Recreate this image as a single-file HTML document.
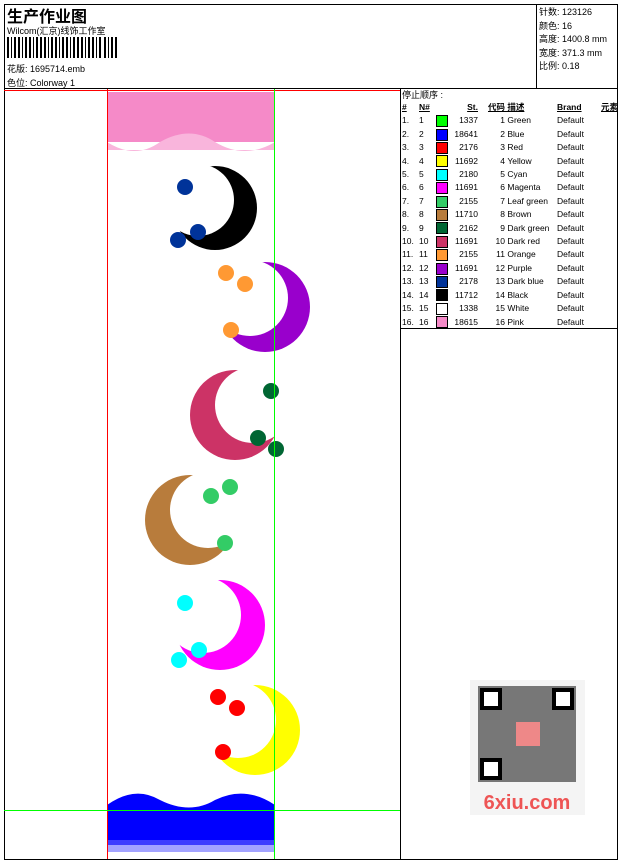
<!DOCTYPE html>
<html><head><meta charset="utf-8"><style>
body{margin:0;background:#fff;width:620px;height:861px;overflow:hidden;font-family:"Liberation Sans","Noto Sans CJK SC",sans-serif;font-size:9px;color:#000;position:relative}
.a{position:absolute;white-space:nowrap}
table{border-collapse:collapse;font-size:8.5px;table-layout:fixed}
td{padding:0;height:13.4px;line-height:13.4px;overflow:hidden}
.sw{display:inline-block;width:10px;height:10px;border:1px solid #000;vertical-align:middle}
</style></head><body>
<svg class="a" style="left:0;top:0" width="620" height="861">
<g fill="none" stroke="#000" stroke-width="1">
<rect x="4.5" y="4.5" width="613" height="855"/>
<line x1="536.5" y1="4" x2="536.5" y2="88"/>
<line x1="4" y1="88.5" x2="618" y2="88.5"/>
<line x1="400.5" y1="88" x2="400.5" y2="859"/>
<line x1="400" y1="328.5" x2="618" y2="328.5"/>
</g>
<g fill="#000">
<rect x="7" y="37" width="2" height="21"/><rect x="11" y="37" width="1" height="21"/><rect x="14" y="37" width="2" height="21"/><rect x="18" y="37" width="2" height="21"/><rect x="22" y="37" width="1" height="21"/><rect x="25" y="37" width="2" height="21"/><rect x="29" y="37" width="2" height="21"/><rect x="33" y="37" width="1" height="21"/><rect x="36" y="37" width="2" height="21"/><rect x="40" y="37" width="2" height="21"/><rect x="44" y="37" width="2" height="21"/><rect x="48" y="37" width="1" height="21"/><rect x="51" y="37" width="2" height="21"/><rect x="55" y="37" width="2" height="21"/><rect x="59" y="37" width="1" height="21"/><rect x="62" y="37" width="2" height="21"/><rect x="66" y="37" width="2" height="21"/><rect x="70" y="37" width="1" height="21"/><rect x="73" y="37" width="2" height="21"/><rect x="77" y="37" width="2" height="21"/><rect x="81" y="37" width="2" height="21"/><rect x="85" y="37" width="1" height="21"/><rect x="88" y="37" width="2" height="21"/><rect x="92" y="37" width="2" height="21"/><rect x="96" y="37" width="1" height="21"/><rect x="99" y="37" width="2" height="21"/><rect x="104" y="37" width="2" height="21"/><rect x="108" y="37" width="1" height="21"/><rect x="111" y="37" width="2" height="21"/><rect x="115" y="37" width="2" height="21"/>
</g>
<rect x="107" y="92" width="168" height="50" fill="#f58ac8"/>
<path d="M107 142 Q135 160 160 142 Q190 125 215 142 Q245 160 275 142 L275 150 L107 150Z" fill="#f9b5dc"/>
<path d="M107 805 Q135 785 160 800 Q190 815 215 800 Q245 785 275 805 L275 845 L107 845Z" fill="#0000ff"/>
<rect x="107" y="840" width="168" height="12" fill="#6666ff" opacity=".6"/>
<g>
<circle cx="215" cy="208" r="42" fill="#000"/><circle cx="198" cy="200" r="36" fill="#fff"/>
<circle cx="265" cy="307" r="45" fill="#9900cc"/><circle cx="250" cy="298" r="38" fill="#fff"/>
<circle cx="235" cy="415" r="45" fill="#cc3366"/><circle cx="253" cy="405" r="38" fill="#fff"/>
<circle cx="190" cy="520" r="45" fill="#b87c3c"/><circle cx="208" cy="510" r="38" fill="#fff"/>
<circle cx="220" cy="625" r="45" fill="#ff00ff"/><circle cx="203" cy="615" r="38" fill="#fff"/>
<circle cx="255" cy="730" r="45" fill="#ffff00"/><circle cx="238" cy="720" r="38" fill="#fff"/>
</g>
<g>
<circle cx="185" cy="187" r="8" fill="#003399"/><circle cx="178" cy="240" r="8" fill="#003399"/><circle cx="198" cy="232" r="8" fill="#003399"/>
<circle cx="226" cy="273" r="8" fill="#ff9933"/><circle cx="245" cy="284" r="8" fill="#ff9933"/><circle cx="231" cy="330" r="8" fill="#ff9933"/>
<circle cx="271" cy="391" r="8" fill="#006633"/><circle cx="258" cy="438" r="8" fill="#006633"/><circle cx="276" cy="449" r="8" fill="#006633"/>
<circle cx="211" cy="496" r="8" fill="#33cc66"/><circle cx="230" cy="487" r="8" fill="#33cc66"/><circle cx="225" cy="543" r="8" fill="#33cc66"/>
<circle cx="185" cy="603" r="8" fill="#00ffff"/><circle cx="199" cy="650" r="8" fill="#00ffff"/><circle cx="179" cy="660" r="8" fill="#00ffff"/>
<circle cx="218" cy="697" r="8" fill="#ff0000"/><circle cx="237" cy="708" r="8" fill="#ff0000"/><circle cx="223" cy="752" r="8" fill="#ff0000"/>
</g>
<line x1="107.5" y1="89" x2="107.5" y2="859" stroke="#ff0000"/>
<line x1="4" y1="90.5" x2="400" y2="90.5" stroke="#ff0000"/>
<line x1="274.5" y1="89" x2="274.5" y2="859" stroke="#00ff00"/>
<line x1="4" y1="810.5" x2="400" y2="810.5" stroke="#00ff00"/>
<rect x="470" y="680" width="115" height="135" fill="#f4f4f4"/>
<rect x="478" y="686" width="98" height="96" fill="#777"/>
<rect x="482" y="690" width="18" height="18" fill="#fff" stroke="#000" stroke-width="4"/>
<rect x="554" y="690" width="18" height="18" fill="#fff" stroke="#000" stroke-width="4"/>
<rect x="482" y="760" width="18" height="18" fill="#fff" stroke="#000" stroke-width="4"/>
<rect x="516" y="722" width="24" height="24" fill="#e88"/>
<text x="527" y="809" font-family="Liberation Sans" font-weight="bold" font-size="20" fill="#e55" text-anchor="middle">6xiu.com</text>
</svg>
<div class="a" style="left:7px;top:3px;font-size:16px;font-weight:bold">生产作业图</div>
<div class="a" style="left:7px;top:24px">Wilcom(汇京)线饰工作室</div>
<div class="a" style="left:7px;top:62px">花版: 1695714.emb</div>
<div class="a" style="left:7px;top:76px">色位: Colorway 1</div>
<div class="a" style="left:539px;top:6px;line-height:13.5px">针数: 123126<br>颜色: 16<br>高度: 1400.8 mm<br>宽度: 371.3 mm<br>比例: 0.18</div>
<div class="a" style="left:402px;top:88px">停止顺序 :</div>
<table class="a" style="left:402px;top:101px;width:216px">
<colgroup><col style="width:17px"><col style="width:17px"><col style="width:15px"><col style="width:27px"><col style="width:27px"><col style="width:52px"><col style="width:36px"><col style="width:25px"></colgroup>
<tr style="font-weight:bold;text-decoration:underline"><td>#</td><td>N#</td><td></td><td style="text-align:right">St.</td><td style="text-align:right">代码</td><td>&nbsp;描述</td><td>Brand</td><td style="text-align:right">元素</td></tr>
<tr><td>1.</td><td>1</td><td><span class="sw" style="background:#00ff00"></span></td><td align="right">1337</td><td align="right">1</td><td>&nbsp;Green</td><td>Default</td><td></td></tr>
<tr><td>2.</td><td>2</td><td><span class="sw" style="background:#0000ff"></span></td><td align="right">18641</td><td align="right">2</td><td>&nbsp;Blue</td><td>Default</td><td></td></tr>
<tr><td>3.</td><td>3</td><td><span class="sw" style="background:#ff0000"></span></td><td align="right">2176</td><td align="right">3</td><td>&nbsp;Red</td><td>Default</td><td></td></tr>
<tr><td>4.</td><td>4</td><td><span class="sw" style="background:#ffff00"></span></td><td align="right">11692</td><td align="right">4</td><td>&nbsp;Yellow</td><td>Default</td><td></td></tr>
<tr><td>5.</td><td>5</td><td><span class="sw" style="background:#00ffff"></span></td><td align="right">2180</td><td align="right">5</td><td>&nbsp;Cyan</td><td>Default</td><td></td></tr>
<tr><td>6.</td><td>6</td><td><span class="sw" style="background:#ff00ff"></span></td><td align="right">11691</td><td align="right">6</td><td>&nbsp;Magenta</td><td>Default</td><td></td></tr>
<tr><td>7.</td><td>7</td><td><span class="sw" style="background:#33cc66"></span></td><td align="right">2155</td><td align="right">7</td><td>&nbsp;Leaf green</td><td>Default</td><td></td></tr>
<tr><td>8.</td><td>8</td><td><span class="sw" style="background:#b87c3c"></span></td><td align="right">11710</td><td align="right">8</td><td>&nbsp;Brown</td><td>Default</td><td></td></tr>
<tr><td>9.</td><td>9</td><td><span class="sw" style="background:#006633"></span></td><td align="right">2162</td><td align="right">9</td><td>&nbsp;Dark green</td><td>Default</td><td></td></tr>
<tr><td>10.</td><td>10</td><td><span class="sw" style="background:#cc3366"></span></td><td align="right">11691</td><td align="right">10</td><td>&nbsp;Dark red</td><td>Default</td><td></td></tr>
<tr><td>11.</td><td>11</td><td><span class="sw" style="background:#ff9933"></span></td><td align="right">2155</td><td align="right">11</td><td>&nbsp;Orange</td><td>Default</td><td></td></tr>
<tr><td>12.</td><td>12</td><td><span class="sw" style="background:#9900cc"></span></td><td align="right">11691</td><td align="right">12</td><td>&nbsp;Purple</td><td>Default</td><td></td></tr>
<tr><td>13.</td><td>13</td><td><span class="sw" style="background:#003399"></span></td><td align="right">2178</td><td align="right">13</td><td>&nbsp;Dark blue</td><td>Default</td><td></td></tr>
<tr><td>14.</td><td>14</td><td><span class="sw" style="background:#000"></span></td><td align="right">11712</td><td align="right">14</td><td>&nbsp;Black</td><td>Default</td><td></td></tr>
<tr><td>15.</td><td>15</td><td><span class="sw" style="background:#fff"></span></td><td align="right">1338</td><td align="right">15</td><td>&nbsp;White</td><td>Default</td><td></td></tr>
<tr><td>16.</td><td>16</td><td><span class="sw" style="background:#f58ac8"></span></td><td align="right">18615</td><td align="right">16</td><td>&nbsp;Pink</td><td>Default</td><td></td></tr>
</table>
</body></html>
